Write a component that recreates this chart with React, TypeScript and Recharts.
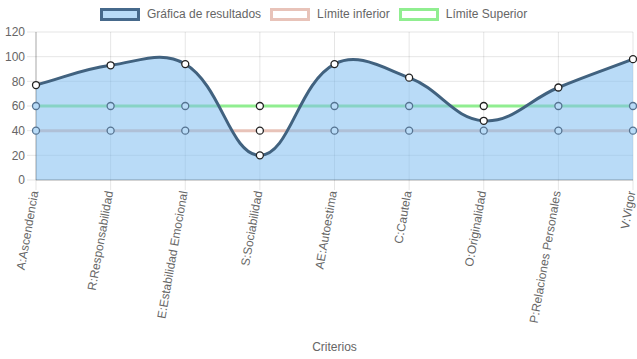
import React from "react";
import { ComposedChart, Area, Line, XAxis, YAxis, CartesianGrid } from "recharts";

const criterios = [
  "A:Ascendencia",
  "R:Responsabilidad",
  "E:Estabilidad Emocional",
  "S:Sociabilidad",
  "AE:Autoestima",
  "C:Cautela",
  "O:Originalidad",
  "P:Relaciones Personales",
  "V:Vigor",
];
const resultados = [77, 93, 94, 20, 94, 83, 48, 75, 98];
const limiteInferior = [40, 40, 40, 40, 40, 40, 40, 40, 40];
const limiteSuperior = [60, 60, 60, 60, 60, 60, 60, 60, 60];
const yTicks = [0, 20, 40, 60, 80, 100, 120];

const data = criterios.map((name, i) => ({
  name,
  resultados: resultados[i],
  inferior: limiteInferior[i],
  superior: limiteSuperior[i],
}));

const FONT = "'Liberation Sans', Arial, Helvetica, sans-serif";
const GRID = "rgba(0,0,0,0.1)";
const AREA_FILL = "rgba(128,190,240,0.55)";

// chart.js style spline (tension 0.4) as a d3 curve factory
function splineCurve(context: any) {
  let pts: number[][] = [];
  let line = NaN;
  const t = 0.4;
  return {
    areaStart() {
      line = 0;
    },
    areaEnd() {
      line = NaN;
    },
    lineStart() {
      pts = [];
    },
    lineEnd() {
      const n = pts.length;
      if (n > 0) {
        if (line) context.lineTo(pts[0][0], pts[0][1]);
        else context.moveTo(pts[0][0], pts[0][1]);
        const cps = pts.map((p, i) => {
          const prev = pts[Math.max(i - 1, 0)];
          const next = pts[Math.min(i + 1, n - 1)];
          const d01 = Math.hypot(p[0] - prev[0], p[1] - prev[1]);
          const d12 = Math.hypot(next[0] - p[0], next[1] - p[1]);
          let s01 = d01 / (d01 + d12);
          let s12 = d12 / (d01 + d12);
          if (!isFinite(s01)) s01 = 0;
          if (!isFinite(s12)) s12 = 0;
          const fa = t * s01;
          const fb = t * s12;
          return {
            px: p[0] - fa * (next[0] - prev[0]),
            py: p[1] - fa * (next[1] - prev[1]),
            nx: p[0] + fb * (next[0] - prev[0]),
            ny: p[1] + fb * (next[1] - prev[1]),
          };
        });
        for (let i = 1; i < n; i++) {
          context.bezierCurveTo(cps[i - 1].nx, cps[i - 1].ny, cps[i].px, cps[i].py, pts[i][0], pts[i][1]);
        }
      }
      if (line || (line !== 0 && n === 1)) context.closePath();
      line = 1 - line;
    },
    point(x: number, y: number) {
      pts.push([+x, +y]);
    },
  };
}

// limit markers look tinted where the results area covers them
function LimitDot(props: any) {
  const { cx, cy, value, payload, index } = props;
  if (cx == null || cy == null) return <g key={`d-${index}`} />;
  const covered = payload && value < payload.resultados;
  return (
    <circle
      key={`d-${index}`}
      cx={cx}
      cy={cy}
      r={3.5}
      fill={covered ? "#b8dbf7" : "#fff"}
      stroke={covered ? "#557391" : "#222"}
      strokeWidth={1.3}
    />
  );
}

function XTick({ x, y, payload }: any) {
  return (
    <g transform={`translate(${x - 1.5},${y - 1}) rotate(-80)`}>
      <text x={0} y={0} textAnchor="end" dominantBaseline="central" fill="#666" fontSize={12} fontFamily={FONT}>
        {payload.value}
      </text>
    </g>
  );
}

const legendItems = [
  { label: "Gráfica de resultados", fill: "#b8dbf7", stroke: "#46698b" },
  { label: "Límite inferior", fill: "#fff", stroke: "#e8c3b9" },
  { label: "Límite Superior", fill: "#fff", stroke: "#90ee90" },
];

export default function App() {
  return (
    <div
      style={{
        position: "absolute",
        left: 0,
        top: 0,
        width: 637,
        height: 359,
        overflow: "hidden",
        background: "#fff",
        fontFamily: FONT,
      }}
    >
      <div
        style={{
          position: "absolute",
          top: 8,
          left: 100,
          display: "flex",
          gap: 9,
          fontSize: 12,
          lineHeight: "13px",
          color: "#666",
          zIndex: 2,
          whiteSpace: "nowrap",
        }}
      >
        {legendItems.map((it) => (
          <div key={it.label} style={{ display: "flex", alignItems: "center", gap: 7 }}>
            <span
              style={{
                display: "inline-block",
                width: 34,
                height: 7,
                background: it.fill,
                border: `3px solid ${it.stroke}`,
              }}
            />
            <span>{it.label}</span>
          </div>
        ))}
      </div>
      <ComposedChart width={637} height={359} data={data} margin={{ top: 32, right: 4, left: 0, bottom: 0 }}>
        <CartesianGrid stroke={GRID} />
        <XAxis
          dataKey="name"
          height={179}
          interval={0}
          tick={<XTick />}
          tickSize={10}
          tickLine={{ stroke: GRID }}
          axisLine={{ stroke: "rgba(0,0,0,0.25)" }}
          label={{ value: "Criterios", position: "insideBottom", offset: 8, fill: "#666", fontSize: 12, fontFamily: FONT }}
        />
        <YAxis
          domain={[0, 120]}
          ticks={yTicks}
          width={36}
          tickSize={9}
          tickMargin={2}
          tickLine={{ stroke: GRID }}
          axisLine={{ stroke: "rgba(0,0,0,0.25)" }}
          tick={{ fill: "#666", fontSize: 12, fontFamily: FONT }}
        />
        <Line
          dataKey="inferior"
          type="linear"
          stroke="#e8c3b9"
          strokeWidth={3}
          dot={LimitDot}
          activeDot={false}
          isAnimationActive={false}
          zIndex={50}
        />
        <Line
          dataKey="superior"
          type="linear"
          stroke="#90ee90"
          strokeWidth={3}
          dot={LimitDot}
          activeDot={false}
          isAnimationActive={false}
          zIndex={50}
        />
        <Area
          dataKey="resultados"
          type={splineCurve as any}
          stroke="#41627f"
          strokeWidth={3}
          fill={AREA_FILL}
          fillOpacity={1}
          dot={{ r: 3.5, fill: "#fff", stroke: "#222", strokeWidth: 1.3 }}
          activeDot={false}
          isAnimationActive={false}
          zIndex={100}
        />
      </ComposedChart>
    </div>
  );
}
